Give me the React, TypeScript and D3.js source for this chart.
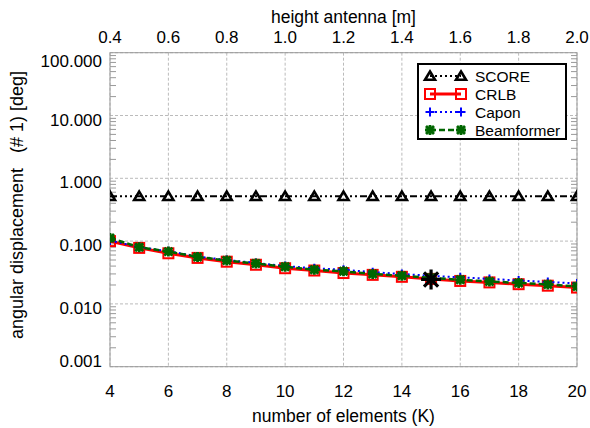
import React from 'react';
import * as d3 from 'd3';

// number of elements K
const elements = [4, 5, 6, 7, 8, 9, 10, 11, 12, 13, 14, 15, 16, 17, 18, 19, 20];

// angular displacement (# 1) [deg]
const scoreValues = [0.52, 0.52, 0.52, 0.52, 0.52, 0.52, 0.52, 0.52, 0.52, 0.52, 0.52, 0.52, 0.52, 0.52, 0.52, 0.52, 0.52];
const crlbValues = [0.1, 0.078, 0.064, 0.054, 0.047, 0.042, 0.037, 0.034, 0.031, 0.029, 0.027, 0.025, 0.0232, 0.022, 0.0206, 0.0195, 0.0182];
const caponValues = [0.102, 0.08, 0.069, 0.057, 0.05, 0.045, 0.04, 0.037, 0.035, 0.032, 0.03, 0.028, 0.0265, 0.025, 0.0236, 0.0224, 0.0212];
const beamformerValues = [0.112, 0.08, 0.068, 0.056, 0.049, 0.044, 0.039, 0.035, 0.033, 0.03, 0.028, 0.026, 0.0242, 0.0228, 0.0216, 0.0204, 0.019];

// the highlighted point
const highlight = { k: 15, value: 0.0245 };

const xTicks = [4, 6, 8, 10, 12, 14, 16, 18, 20];
const topTicks = [0.4, 0.6, 0.8, 1.0, 1.2, 1.4, 1.6, 1.8, 2.0];
const yTicks = [0.001, 0.01, 0.1, 1, 10, 100];

const legendNames = ['SCORE', 'CRLB', 'Capon', 'Beamformer'];

const font = '"Liberation Sans", Arial, Helvetica, sans-serif';
const W = 590;
const H = 428;
const margin = { top: 52.7, right: 13, bottom: 61.3, left: 110 };

const x = d3.scaleLinear().domain([4, 20]).range([margin.left, W - margin.right]);
const xTop = d3.scaleLinear().domain([0.4, 2.0]).range([margin.left, W - margin.right]);
const y = d3.scaleLog().domain([0.001, 100]).range([H - margin.bottom, margin.top]);

const x0 = margin.left;
const x1 = W - margin.right;
const y0 = H - margin.bottom;
const y1 = margin.top;

const minorTicks = yTicks.slice(0, -1).flatMap(d => d3.range(2, 10).map(m => m * d));

type Marker = 'triangle' | 'square' | 'plus' | 'asterisk';

const series: { name: string; values: number[]; color: string; width: number; dash?: string; marker: Marker }[] = [
  { name: 'SCORE', values: scoreValues, color: '#000', width: 2, dash: '7,3,2,3,2,3,2,3', marker: 'triangle' },
  { name: 'CRLB', values: crlbValues, color: '#ff0000', width: 3, marker: 'square' },
  { name: 'Capon', values: caponValues, color: '#0000ff', width: 2, dash: '2,3', marker: 'plus' },
  { name: 'Beamformer', values: beamformerValues, color: '#006600', width: 2.5, dash: '6,3', marker: 'asterisk' },
];

const line = d3.line<number>()
  .x((d, i) => x(elements[i]))
  .y(d => y(d));

function MarkerShape({ type, cx, cy, color }: { type: Marker; cx: number; cy: number; color: string }) {
  if (type === 'triangle') {
    return <path d={`M${cx},${cy - 4.5}L${cx + 5},${cy + 3.8}L${cx - 5},${cy + 3.8}Z`} fill="none" stroke={color} strokeWidth={2.6} strokeLinejoin="miter" />;
  }
  if (type === 'square') {
    return <rect x={cx - 5} y={cy - 5} width={10} height={10} fill="none" stroke={color} strokeWidth={2} />;
  }
  if (type === 'plus') {
    return <path d={`M${cx - 4.5},${cy}H${cx + 4.5}M${cx},${cy - 4.5}V${cy + 4.5}`} stroke={color} strokeWidth={2} />;
  }
  const r = 5;
  return (
    <path
      d={`M${cx - r},${cy}H${cx + r}M${cx - r * 0.8},${cy - r * 0.8}L${cx + r * 0.8},${cy + r * 0.8}M${cx - r * 0.8},${cy + r * 0.8}L${cx + r * 0.8},${cy - r * 0.8}M${cx},${cy - r}V${cy + r}`}
      stroke={color}
      strokeWidth={2.8}
    />
  );
}

function yLabelBaseline(v: number) {
  const t = y(v);
  const c = Math.min(Math.max(t + 4, y1 + 8.6), y0 - 5.7);
  return c + 6;
}

export default function App() {
  const legendX = 418;
  const legendY = 64;

  return (
    <svg width={W} height={H} style={{ position: 'absolute', left: 0, top: 0, background: '#fff' }} fontFamily={font}>
      <defs>
        <clipPath id="plot-area">
          <rect x={x0} y={y1} width={x1 - x0} height={y0 - y1} />
        </clipPath>
      </defs>

      {/* grid */}
      <g stroke="#bbb" strokeWidth={1} strokeDasharray="3,2">
        {xTicks.map(t => (
          <line key={`gx${t}`} x1={x(t)} x2={x(t)} y1={y1} y2={y0} />
        ))}
        {yTicks.map(t => (
          <line key={`gy${t}`} x1={x0} x2={x1} y1={y(t)} y2={y(t)} />
        ))}
      </g>

      {/* frame and minor ticks */}
      <rect x={x0} y={y1} width={x1 - x0} height={y0 - y1} fill="none" stroke="#999" strokeWidth={1} />
      <g stroke="#999" strokeWidth={1}>
        {minorTicks.map(t => (
          <g key={`m${t}`}>
            <line x1={x0} x2={x0 + 6} y1={y(t)} y2={y(t)} />
            <line x1={x1 - 6} x2={x1} y1={y(t)} y2={y(t)} />
          </g>
        ))}
      </g>

      {/* series */}
      <g clipPath="url(#plot-area)">
        {series.map(s => (
          <g key={s.name}>
            <path d={line(s.values) ?? ''} fill="none" stroke={s.color} strokeWidth={s.width} strokeDasharray={s.dash} />
            {s.values.map((v, i) => (
              <MarkerShape key={i} type={s.marker} cx={x(elements[i])} cy={y(v)} color={s.color} />
            ))}
          </g>
        ))}
        <g stroke="#000" strokeWidth={3.2}>
          {[0, 45, 90, 135].map(a => {
            const r = 10;
            const cx = x(highlight.k);
            const cy = y(highlight.value);
            const dx = r * Math.cos((a * Math.PI) / 180);
            const dy = r * Math.sin((a * Math.PI) / 180);
            return <line key={a} x1={cx - dx} x2={cx + dx} y1={cy - dy} y2={cy + dy} />;
          })}
        </g>
      </g>

      {/* bottom and top axes */}
      <g fontSize={17} textAnchor="middle" fill="#000">
        {xTicks.map(t => (
          <text key={`bx${t}`} x={x(t)} y={397}>{t}</text>
        ))}
        {topTicks.map(t => (
          <text key={`tx${t}`} x={xTop(t)} y={43}>{t.toFixed(1)}</text>
        ))}
      </g>
      <g fontSize={17.5} textAnchor="middle" fill="#000">
        <text x={(x0 + x1) / 2} y={422}>number of elements (K)</text>
        <text x={(x0 + x1) / 2} y={22.5}>height antenna [m]</text>
      </g>

      {/* left axis */}
      <g fontSize={17} textAnchor="end" fill="#000">
        {yTicks.map(t => (
          <text key={`ly${t}`} x={102} y={yLabelBaseline(t)}>{t.toFixed(3)}</text>
        ))}
      </g>
      <text
        transform={`translate(23,205) rotate(-90)`}
        textAnchor="middle"
        fontSize={18}
        style={{ whiteSpace: 'pre' }}
      >
        {'angular displacement   (# 1) [deg]'}
      </text>

      {/* legend */}
      <rect x={legendX} y={legendY} width={148} height={75} fill="#fff" stroke="#000" strokeWidth={2} />
      {series.map((s, i) => {
        const ly = legendY + 12 + i * 18;
        return (
          <g key={`lg${s.name}`}>
            <line x1={legendX + 12} x2={legendX + 43} y1={ly} y2={ly} stroke={s.color} strokeWidth={s.width} strokeDasharray={s.dash === undefined ? undefined : s.name === 'SCORE' ? '2,3' : s.dash} />
            <MarkerShape type={s.marker} cx={legendX + 12} cy={ly} color={s.color} />
            <MarkerShape type={s.marker} cx={legendX + 43} cy={ly} color={s.color} />
            <text x={legendX + 57} y={ly + 5.5} fontSize={15.5}>{legendNames[i]}</text>
          </g>
        );
      })}
    </svg>
  );
}
